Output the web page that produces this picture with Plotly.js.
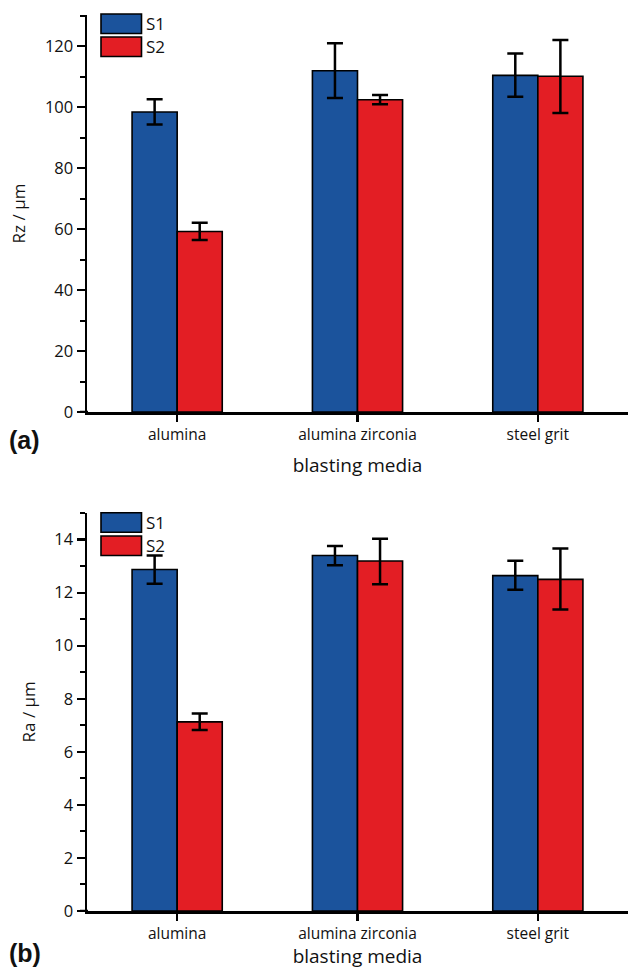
<!DOCTYPE html>
<html>
<head>
<meta charset="utf-8">
<script src="https://cdn.plot.ly/plotly-3.0.1.min.js"></script>
<style>html,body{margin:0;padding:0;background:#fff;}#chart{width:628px;height:969px;}</style>
</head>
<body>
<div id="chart"></div>
<script>
// ---- data ----
const categories = ["alumina", "alumina zirconia", "steel grit"];
const seriesNames = ["S1", "S2"];
// Panel (a): Rz / µm
const rzS1 = [98.4, 111.9, 110.4];
const rzS1ErrPlus = [4.2, 9.0, 7.2];
const rzS1ErrMinus = [4.1, 8.9, 7.0];
const rzS2 = [59.2, 102.4, 110.1];
const rzS2ErrPlus = [2.9, 1.6, 11.9];
const rzS2ErrMinus = [2.8, 1.5, 12.0];
// Panel (b): Ra / µm
const raS1 = [12.87, 13.40, 12.64];
const raS1ErrPlus = [0.53, 0.36, 0.56];
const raS1ErrMinus = [0.54, 0.37, 0.53];
const raS2 = [7.13, 13.19, 12.50];
const raS2ErrPlus = [0.31, 0.84, 1.16];
const raS2ErrMinus = [0.31, 0.87, 1.14];
const yTitles = ["Rz / µm", "Ra / µm"];
const xTitle = "blasting media";
const panelLabels = ["(a)", "(b)"];

const blue = "#1b539c";
const red = "#e31e24";
const FONT = "Open Sans, Noto Sans, sans-serif";

function barTrace(name, y, plus, minus, color, xa, ya) {
  return {
    type: "bar", name: name, x: categories, y: y,
    xaxis: xa, yaxis: ya, showlegend: false,
    marker: {color: color, line: {color: "#000", width: 1.6}},
    error_y: {type: "data", symmetric: false, array: plus, arrayminus: minus,
              color: "#000", thickness: 2.5, width: 8}
  };
}

const data = [
  barTrace(seriesNames[0], rzS1, rzS1ErrPlus, rzS1ErrMinus, blue, "x", "y"),
  barTrace(seriesNames[1], rzS2, rzS2ErrPlus, rzS2ErrMinus, red, "x", "y"),
  barTrace(seriesNames[0], raS1, raS1ErrPlus, raS1ErrMinus, blue, "x2", "y2"),
  barTrace(seriesNames[1], raS2, raS2ErrPlus, raS2ErrMinus, red, "x2", "y2")
];

const W = 628, H = 969;
const px = v => v / W;
const py = v => 1 - v / H;

function xaxisDef(domainY, standoff) {
  return {
    domain: [px(87), 1], range: [-0.5, 2.5], type: "category",
    showline: true, linecolor: "#000", linewidth: 2.5,
    ticks: "outside", ticklen: 7, tickwidth: 2.2, tickcolor: "#000",
    tickfont: {family: FONT, size: 15.5, color: "#111"},
    showgrid: false, zeroline: false,
    title: {text: xTitle, font: {family: FONT, size: 19, color: "#111"}, standoff: standoff},
    anchor: domainY
  };
}
function yaxisDef(domain, range, dtick, minorDtick, title) {
  return {
    domain: domain, range: range, dtick: dtick,
    showline: true, linecolor: "#000", linewidth: 2.5,
    ticks: "outside", ticklen: 8, tickwidth: 2.2, tickcolor: "#000",
    minor: {ticks: "outside", ticklen: 5, tickwidth: 2, tickcolor: "#000", dtick: minorDtick, showgrid: false},
    tickfont: {family: FONT, size: 16.5, color: "#111"},
    showgrid: false, zeroline: false,
    title: {text: title, font: {family: FONT, size: 17, color: "#111"}, standoff: 15}
  };
}

const layout = {
  width: W, height: H,
  margin: {l: 0, r: 0, t: 0, b: 0},
  paper_bgcolor: "#fff", plot_bgcolor: "#fff",
  barmode: "group", bargap: 0.5, bargroupgap: 0,
  showlegend: false,
  xaxis: xaxisDef("y", 15),
  yaxis: Object.assign(yaxisDef([py(412), py(15)], [0, 130.2], 20, 10, yTitles[0]), {anchor: "x"}),
  xaxis2: xaxisDef("y2", 12),
  yaxis2: Object.assign(yaxisDef([py(911), py(512.5)], [0, 15.02], 2, 1, yTitles[1]), {anchor: "x2"}),
  shapes: [],
  annotations: []
};

// legends drawn as boxes (per panel)
const legendRows = [
  {xa: "x domain", ya: "y domain", tops: [14, 37], h: 19.5, dTop: 15, dBot: 412},
  {xa: "x2 domain", ya: "y2 domain", tops: [512.7, 536], h: 19.5, dTop: 512.5, dBot: 911}
];
legendRows.forEach(function (lg, p) {
  [blue, red].forEach(function (c, i) {
    const top = lg.tops[i], bot = top + lg.h;
    const fy = v => (lg.dBot - v) / (lg.dBot - lg.dTop);
    const fx = v => (v - 87) / (628 - 87);
    layout.shapes.push({type: "rect", xref: lg.xa, yref: lg.ya,
      x0: fx(101), x1: fx(141.5), y0: fy(bot), y1: fy(top),
      fillcolor: c, line: {color: "#000", width: 1.6}});
    layout.annotations.push({xref: lg.xa, yref: lg.ya, x: fx(143.5), y: fy((top + bot) / 2),
      xanchor: "left", yanchor: "middle", showarrow: false, text: seriesNames[i],
      font: {family: FONT, size: 17, color: "#111"}});
  });
});

// x-axis line overshoot left of y-axis
[["y", 0], ["y2", 0]].forEach(function (a) {
  layout.shapes.push({type: "line", xref: "paper", yref: a[0], x0: px(80), x1: px(88), y0: 0, y1: 0,
    line: {color: "#000", width: 2.5}});
});

// panel labels
layout.annotations.push({xref: "paper", yref: "paper", x: px(7), y: py(440), xanchor: "left", yanchor: "middle",
  showarrow: false, text: "<b>" + panelLabels[0] + "</b>", font: {family: "Liberation Sans, Arial, sans-serif", size: 25, color: "#111"}});
layout.annotations.push({xref: "paper", yref: "paper", x: px(7), y: py(953), xanchor: "left", yanchor: "middle",
  showarrow: false, text: "<b>" + panelLabels[1] + "</b>", font: {family: "Liberation Sans, Arial, sans-serif", size: 25, color: "#111"}});

Plotly.newPlot("chart", data, layout, {displayModeBar: false, staticPlot: true});
</script>
</body>
</html>
